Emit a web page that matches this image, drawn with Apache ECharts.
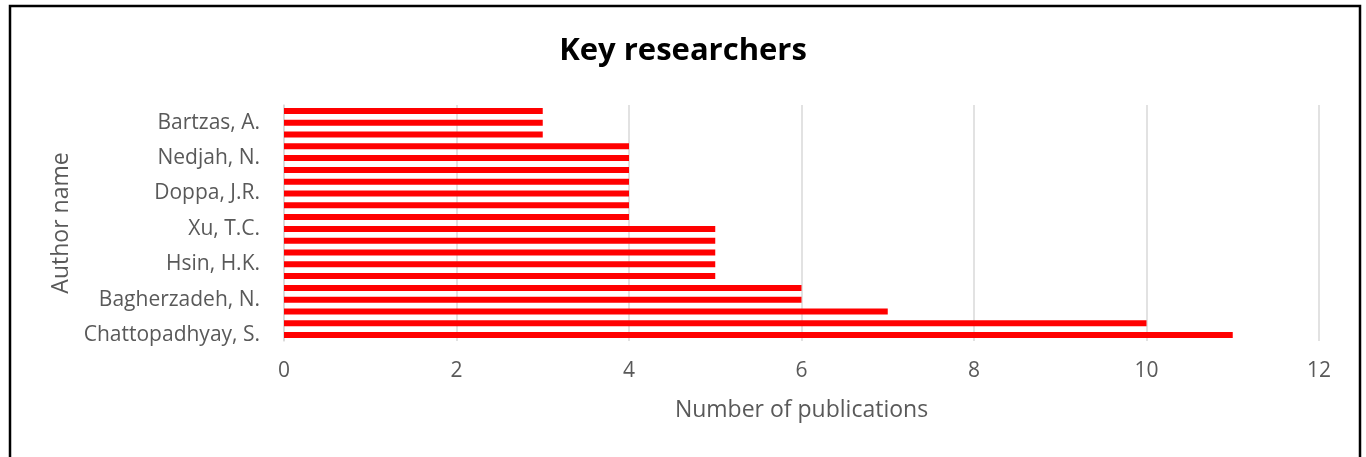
<!DOCTYPE html>
<html>
<head>
<meta charset="utf-8">
<title>Key researchers</title>
<script src="https://cdn.jsdelivr.net/npm/echarts@6/dist/echarts.min.js"></script>
<style>
  html, body { margin: 0; padding: 0; background: #ffffff; }
  #chart { width: 1366px; height: 457px; }
</style>
</head>
<body>
<div id="chart"></div>
<script>
// Authors, bottom to top; only every third name is printed on the axis
const authors = [
  'Chattopadhyay, S.', '', '',
  'Bagherzadeh, N.', '', '',
  'Hsin, H.K.', '', '',
  'Xu, T.C.', '', '',
  'Doppa, J.R.', '', '',
  'Nedjah, N.', '', '',
  'Bartzas, A.', ''
];
// Number of publications per author (same order)
const publications = [
  11, 10, 7,
  6, 6, 5,
  5, 5, 5,
  5, 4, 4,
  4, 4, 4,
  4, 4, 3,
  3, 3
];
const xTicks = { min: 0, max: 12, interval: 2 };

const FONT = '"Open Sans", Lato, sans-serif';
const chart = echarts.init(document.getElementById('chart'), null, { renderer: 'canvas' });

chart.setOption({
  backgroundColor: '#ffffff',
  animation: false,
  title: {
    text: 'Key researchers',
    left: 'center',
    top: 31,
    textStyle: { fontFamily: FONT, fontSize: 31, fontWeight: 'bold', color: '#000000' }
  },
  graphic: [{
    type: 'polyline',
    shape: { points: [[10, 470], [10, 6], [1360, 6], [1360, 470]] },
    style: { stroke: '#000000', lineWidth: 2.5, fill: null },
    silent: true
  }],
  grid: { left: 284, right: 47, top: 105, bottom: 116, containLabel: false },
  xAxis: {
    type: 'value',
    min: xTicks.min,
    max: xTicks.max,
    interval: xTicks.interval,
    name: 'Number of publications',
    nameLocation: 'middle',
    nameGap: 58,
    nameTextStyle: { fontFamily: FONT, fontSize: 23, color: '#595959' },
    axisLine: { show: false },
    axisTick: { show: false },
    axisLabel: { fontFamily: FONT, fontSize: 21, color: '#595959', margin: 20 },
    splitLine: { show: true, lineStyle: { color: '#d9d9d9', width: 1.5 } }
  },
  yAxis: {
    type: 'category',
    data: authors,
    name: 'Author name',
    nameLocation: 'middle',
    nameGap: 209,
    nameTextStyle: { fontFamily: FONT, fontSize: 23, color: '#595959' },
    axisLine: { show: true, lineStyle: { color: '#d9d9d9', width: 1.5 } },
    axisTick: { show: false },
    axisLabel: { interval: 2, fontFamily: FONT, fontSize: 21, color: '#595959', margin: 24 },
    splitLine: { show: false }
  },
  series: [{
    type: 'bar',
    data: publications,
    barWidth: 6,
    itemStyle: { color: '#ff0000' },
    silent: true
  }]
});
</script>
</body>
</html>
